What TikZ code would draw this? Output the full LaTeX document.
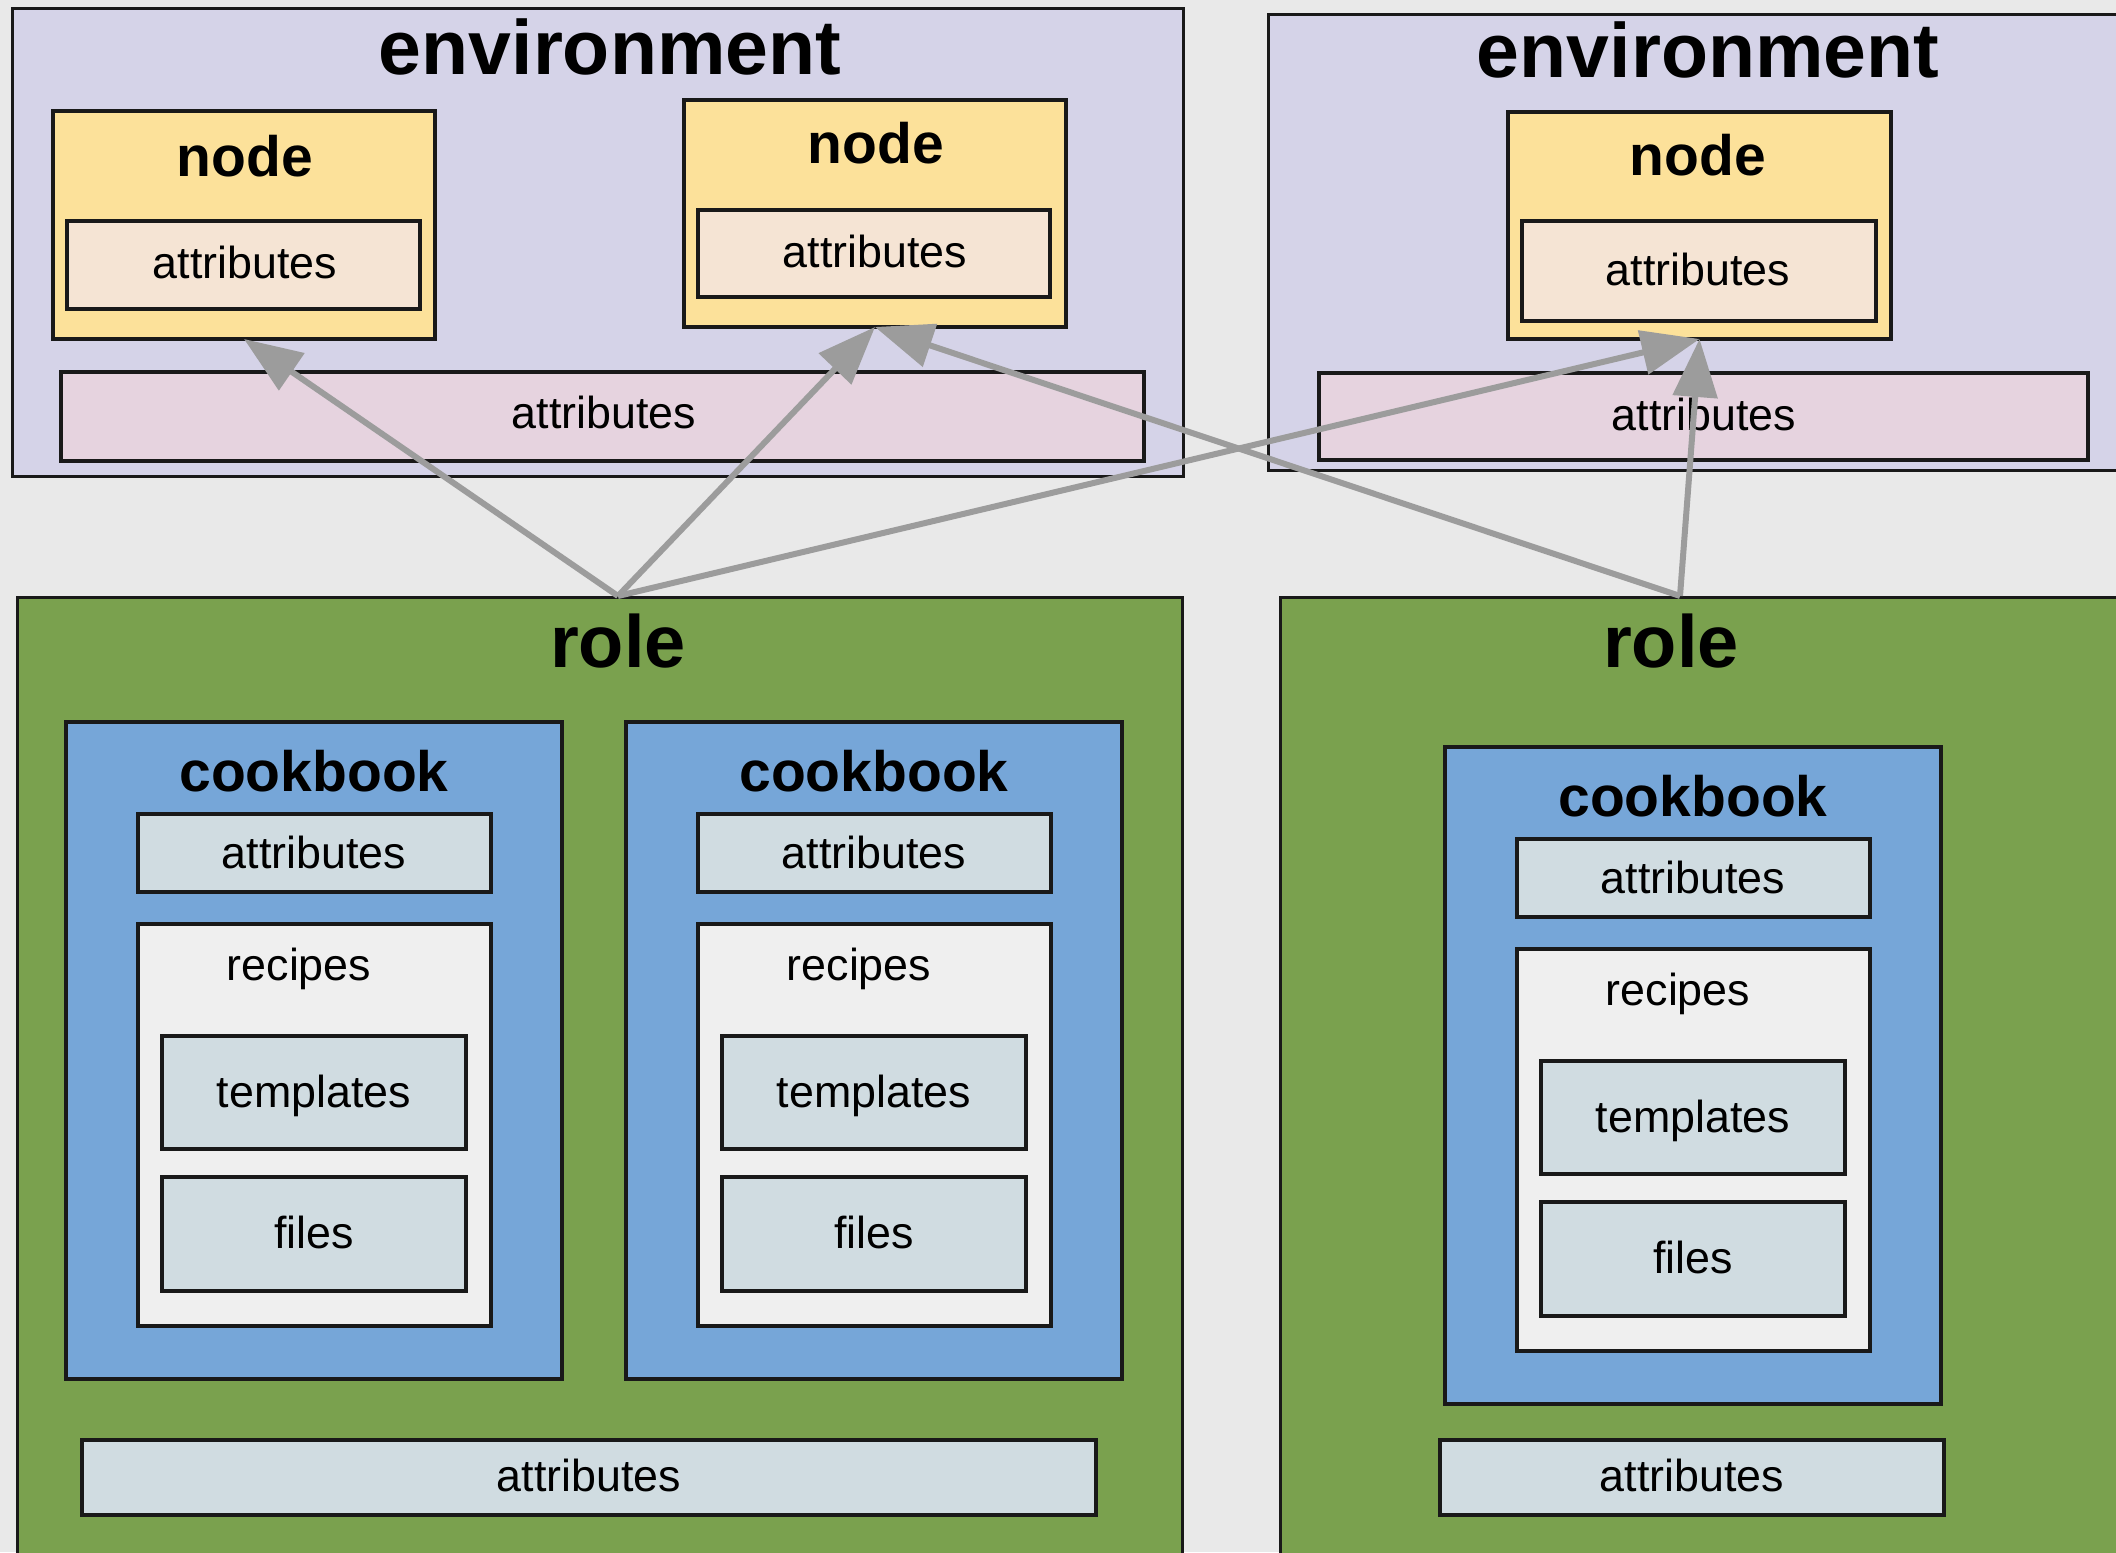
\documentclass[tikz,border=0pt]{standalone}
\usepackage{fontspec}
\setmainfont{Liberation Sans}
\usetikzlibrary{arrows.meta}
\definecolor{bgc}{RGB}{233,233,233}
\definecolor{envc}{RGB}{213,211,232}
\definecolor{nodec}{RGB}{252,225,154}
\definecolor{nattrc}{RGB}{245,228,212}
\definecolor{eattrc}{RGB}{230,211,223}
\definecolor{rolec}{RGB}{122,161,78}
\definecolor{cbc}{RGB}{118,166,216}
\definecolor{lightc}{RGB}{208,220,225}
\definecolor{recc}{RGB}{239,239,239}
\definecolor{arrc}{RGB}{156,156,156}
\begin{document}
\begin{tikzpicture}[x=1pt,y=-1pt,
  box/.style={draw=black!90, line width=4pt, anchor=north west, inner sep=0pt, outer sep=0pt},
  outerbox/.style={box, line width=3pt},
  envbox/.style={outerbox, fill=envc},
  rolebox/.style={outerbox, fill=rolec},
  nodebox/.style={box, fill=nodec},
  nattrbox/.style={box, fill=nattrc},
  eattrbox/.style={box, fill=eattrc},
  cbbox/.style={box, fill=cbc},
  lightbox/.style={box, fill=lightc},
  recbox/.style={box, fill=recc},
  bigtxt/.style={font=\fontsize{77}{80}\selectfont\bfseries, anchor=base, inner sep=0pt},
  roletxt/.style={font=\fontsize{74}{78}\selectfont\bfseries, anchor=base, inner sep=0pt},
  midtxt/.style={font=\fontsize{57}{60}\selectfont\bfseries, anchor=base, inner sep=0pt},
  regtxt/.style={font=\fontsize{44.8}{48}\selectfont, anchor=base, inner sep=0pt},
  arr/.style={draw=arrc, line width=6pt, -{Triangle[length=58pt,width=44pt]}}
]
\useasboundingbox (0,0) rectangle (2116,1552);
\clip (0,0) rectangle (2116,1552);
\fill[bgc] (0,0) rectangle (2116,1552);

% ---------- environment 1 ----------
\node[envbox, minimum width=1171pt, minimum height=467pt] (env1) at (12,9) {};
\node[bigtxt] (env1t) at (610,75) {environment};
\node[nodebox, minimum width=382pt, minimum height=228pt] (node1) at (53,111) {};
\node[midtxt] (node1t) at (245,176) {node};
\node[nattrbox, minimum width=353pt, minimum height=88pt] (na1) at (67,221) {};
\node[regtxt] (na1t) at (245,278) {attributes};
\node[nodebox, minimum width=382pt, minimum height=227pt] (node2) at (684,100) {};
\node[midtxt] (node2t) at (876,163) {node};
\node[nattrbox, minimum width=352pt, minimum height=87pt] (na2) at (698,210) {};
\node[regtxt] (na2t) at (875,267) {attributes};
\node[eattrbox, minimum width=1083pt, minimum height=89pt] (ea1) at (61,372) {};
\node[regtxt] (ea1t) at (604,428) {attributes};

% ---------- environment 2 ----------
\node[envbox, minimum width=872pt, minimum height=455pt] (env2) at (1268,15) {};
\node[bigtxt] (env2t) at (1708,78) {environment};
\node[nodebox, minimum width=383pt, minimum height=227pt] (node3) at (1508,112) {};
\node[midtxt] (node3t) at (1698,175) {node};
\node[nattrbox, minimum width=354pt, minimum height=100pt] (na3) at (1522,221) {};
\node[regtxt] (na3t) at (1698,285) {attributes};
\node[eattrbox, minimum width=769pt, minimum height=87pt] (ea2) at (1319,373) {};
\node[regtxt] (ea2t) at (1704,430) {attributes};

% ---------- role 1 ----------
\node[rolebox, minimum width=1165pt, minimum height=983pt] (role1) at (17,597) {};
\node[roletxt] (role1t) at (618,667) {role};
% cookbook 1
\node[cbbox, minimum width=496pt, minimum height=657pt] (cb1) at (66,722) {};
\node[midtxt] (cb1t) at (314,791) {cookbook};
\node[lightbox, minimum width=353pt, minimum height=78pt] (cb1a) at (138,814) {};
\node[regtxt] (cb1at) at (314,868) {attributes};
\node[recbox, minimum width=353pt, minimum height=402pt] (cb1r) at (138,924) {};
\node[regtxt] (cb1rt) at (299,980) {recipes};
\node[lightbox, minimum width=304pt, minimum height=113pt] (cb1tp) at (162,1036) {};
\node[regtxt] (cb1tpt) at (314,1107) {templates};
\node[lightbox, minimum width=304pt, minimum height=114pt] (cb1f) at (162,1177) {};
\node[regtxt] (cb1ft) at (314,1248) {files};
% cookbook 2
\node[cbbox, minimum width=496pt, minimum height=657pt] (cb2) at (626,722) {};
\node[midtxt] (cb2t) at (874,791) {cookbook};
\node[lightbox, minimum width=353pt, minimum height=78pt] (cb2a) at (698,814) {};
\node[regtxt] (cb2at) at (874,868) {attributes};
\node[recbox, minimum width=353pt, minimum height=402pt] (cb2r) at (698,924) {};
\node[regtxt] (cb2rt) at (859,980) {recipes};
\node[lightbox, minimum width=304pt, minimum height=113pt] (cb2tp) at (722,1036) {};
\node[regtxt] (cb2tpt) at (874,1107) {templates};
\node[lightbox, minimum width=304pt, minimum height=114pt] (cb2f) at (722,1177) {};
\node[regtxt] (cb2ft) at (874,1248) {files};
% role attributes
\node[lightbox, minimum width=1014pt, minimum height=75pt] (ra1) at (82,1440) {};
\node[regtxt] (ra1t) at (589,1491) {attributes};

% ---------- role 2 ----------
\node[rolebox, minimum width=860pt, minimum height=983pt] (role2) at (1280,597) {};
\node[roletxt] (role2t) at (1671,667) {role};
\node[cbbox, minimum width=496pt, minimum height=657pt] (cb3) at (1445,747) {};
\node[midtxt] (cb3t) at (1693,816) {cookbook};
\node[lightbox, minimum width=353pt, minimum height=78pt] (cb3a) at (1517,839) {};
\node[regtxt] (cb3at) at (1693,893) {attributes};
\node[recbox, minimum width=353pt, minimum height=402pt] (cb3r) at (1517,949) {};
\node[regtxt] (cb3rt) at (1678,1005) {recipes};
\node[lightbox, minimum width=304pt, minimum height=113pt] (cb3tp) at (1541,1061) {};
\node[regtxt] (cb3tpt) at (1693,1132) {templates};
\node[lightbox, minimum width=304pt, minimum height=114pt] (cb3f) at (1541,1202) {};
\node[regtxt] (cb3ft) at (1693,1273) {files};
\node[lightbox, minimum width=504pt, minimum height=75pt] (ra2) at (1440,1440) {};
\node[regtxt] (ra2t) at (1692,1491) {attributes};

% ---------- connectors ----------
\coordinate (r1top) at (618,596);
\coordinate (r2top) at (1680,596);
\draw[arr] (r1top) -- (node1.south);
\draw[arr] (r1top) -- (node2.south);
\draw[arr] (r1top) -- (node3.south);
\draw[arr] (r2top) -- (node2.south);
\draw[arr] (r2top) -- (node3.south);
\end{tikzpicture}
\end{document}
